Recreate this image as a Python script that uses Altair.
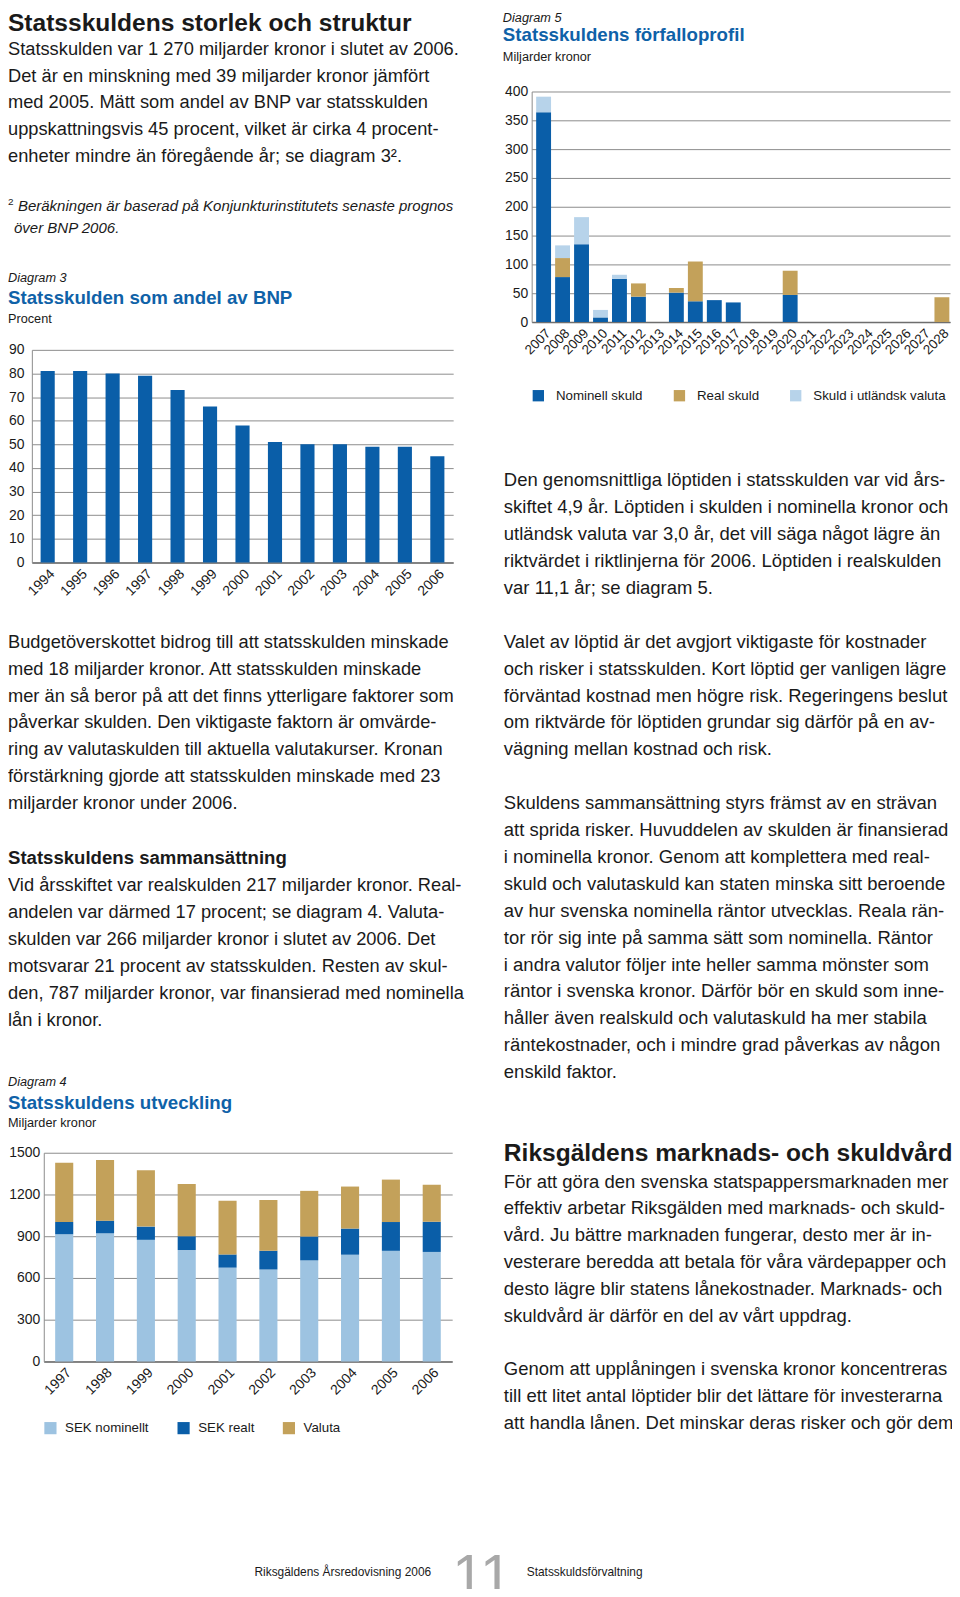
import altair as alt
import pandas as pd

# ---------------- data ----------------
years3 = ["1994", "1995", "1996", "1997", "1998", "1999", "2000", "2001", "2002", "2003", "2004", "2005", "2006"]
andel_bnp = [81, 81, 80, 79, 73, 66, 58, 51, 50, 50, 49, 49, 45]
ticks3 = [0, 10, 20, 30, 40, 50, 60, 70, 80, 90]

years4 = ["1997", "1998", "1999", "2000", "2001", "2002", "2003", "2004", "2005", "2006"]
sek_nominellt = [914, 921, 874, 800, 674, 660, 726, 767, 795, 787]
sek_realt = [88, 91, 95, 100, 95, 135, 172, 188, 207, 217]
valuta = [427, 436, 405, 376, 386, 365, 328, 302, 305, 266]
series4 = ["SEK nominellt", "SEK realt", "Valuta"]
ticks4 = [0, 300, 600, 900, 1200, 1500]

years5 = [str(y) for y in range(2007, 2029)]
nominell_skuld = [364, 78, 135, 8, 75, 44, 0, 51, 36, 38, 34, 0, 0, 47, 0, 0, 0, 0, 0, 0, 0, 0]
real_skuld = [0, 33, 0, 0, 0, 23, 0, 8, 69, 0, 0, 0, 0, 42, 0, 0, 0, 0, 0, 0, 0, 43]
utlandsk_skuld = [27, 22, 47, 13, 7, 0, 0, 0, 0, 0, 0, 0, 0, 0, 0, 0, 0, 0, 0, 0, 0, 0]
series5 = ["Nominell skuld", "Real skuld", "Skuld i utländsk valuta"]
ticks5 = [0, 50, 100, 150, 200, 250, 300, 350, 400]

heading1 = ["Statsskuldens storlek och struktur"]
para1 = [
    "Statsskulden var 1 270 miljarder kronor i slutet av 2006.",
    "Det är en minskning med 39 miljarder kronor jämfört",
    "med 2005. Mätt som andel av BNP var statsskulden",
    "uppskattningsvis 45 procent, vilket är cirka 4 procent-",
    "enheter mindre än föregående år; se diagram 3²."]
footnote_mark = ["2"]
footnote1 = ["Beräkningen är baserad på Konjunkturinstitutets senaste prognos"]
footnote2 = ["över BNP 2006."]
diag3_head = ["Diagram 3"]
diag3_title = ["Statsskulden som andel av BNP"]
diag3_unit = ["Procent"]
para2 = [
    "Budgetöverskottet bidrog till att statsskulden minskade",
    "med 18 miljarder kronor. Att statsskulden minskade",
    "mer än så beror på att det finns ytterligare faktorer som",
    "påverkar skulden. Den viktigaste faktorn är omvärde-",
    "ring av valutaskulden till aktuella valutakurser. Kronan",
    "förstärkning gjorde att statsskulden minskade med 23",
    "miljarder kronor under 2006."]
heading2 = ["Statsskuldens sammansättning"]
para3 = [
    "Vid årsskiftet var realskulden 217 miljarder kronor. Real-",
    "andelen var därmed 17 procent; se diagram 4. Valuta-",
    "skulden var 266 miljarder kronor i slutet av 2006. Det",
    "motsvarar 21 procent av statsskulden. Resten av skul-",
    "den, 787 miljarder kronor, var finansierad med nominella",
    "lån i kronor."]
diag4_head = ["Diagram 4"]
diag4_title = ["Statsskuldens utveckling"]
diag4_unit = ["Miljarder kronor"]
diag5_head = ["Diagram 5"]
diag5_title = ["Statsskuldens förfalloprofil"]
diag5_unit = ["Miljarder kronor"]
para4 = [
    "Den genomsnittliga löptiden i statsskulden var vid års-",
    "skiftet 4,9 år. Löptiden i skulden i nominella kronor och",
    "utländsk valuta var 3,0 år, det vill säga något lägre än",
    "riktvärdet i riktlinjerna för 2006. Löptiden i realskulden",
    "var 11,1 år; se diagram 5."]
para5 = [
    "Valet av löptid är det avgjort viktigaste för kostnader",
    "och risker i statsskulden. Kort löptid ger vanligen lägre",
    "förväntad kostnad men högre risk. Regeringens beslut",
    "om riktvärde för löptiden grundar sig därför på en av-",
    "vägning mellan kostnad och risk."]
para6 = [
    "Skuldens sammansättning styrs främst av en strävan",
    "att sprida risker. Huvuddelen av skulden är finansierad",
    "i nominella kronor. Genom att komplettera med real-",
    "skuld och valutaskuld kan staten minska sitt beroende",
    "av hur svenska nominella räntor utvecklas. Reala rän-",
    "tor rör sig inte på samma sätt som nominella. Räntor",
    "i andra valutor följer inte heller samma mönster som",
    "räntor i svenska kronor. Därför bör en skuld som inne-",
    "håller även realskuld och valutaskuld ha mer stabila",
    "räntekostnader, och i mindre grad påverkas av någon",
    "enskild faktor."]
heading3 = ["Riksgäldens marknads- och skuldvård"]
para7 = [
    "För att göra den svenska statspappersmarknaden mer",
    "effektiv arbetar Riksgälden med marknads- och skuld-",
    "vård. Ju bättre marknaden fungerar, desto mer är in-",
    "vesterare beredda att betala för våra värdepapper och",
    "desto lägre blir statens lånekostnader. Marknads- och",
    "skuldvård är därför en del av vårt uppdrag."]
para8 = [
    "Genom att upplåningen i svenska kronor koncentreras",
    "till ett litet antal löptider blir det lättare för investerarna",
    "att handla lånen. Det minskar deras risker och gör dem"]
footer_left = ["Riksgäldens Årsredovisning 2006"]
footer_page = ["11"]
footer_right = ["Statsskuldsförvaltning"]

# ---------------- style ----------------
FONT = "Liberation Sans"
TEXT = "#1a1a1a"
TITLE_BLUE = "#0f62a8"
BLUE = "#0a5ea8"
LIGHT4 = "#9dc3e1"
LIGHT5 = "#b7d3ea"
TAN = "#c3a15a"
GRID = "#8c8c8c"
AXIS = "#6e6e6e"
W, H = 950, 1581
OX, OY = 5, 5
TB = 2  # text baseline correction
BODY_L = 18.4
BODY_R = 18.6


def X(v):
    return v - OX


def Y(v):
    return v - OY


def text_block(lines, x, y0, lh, size, weight="normal", style="normal", color=TEXT):
    df = pd.DataFrame({"line": lines, "row": list(range(len(lines)))})
    y0 = y0 - TB
    return alt.Chart(df).mark_text(
        align="left", baseline="alphabetic", font=FONT, fontSize=size,
        fontWeight=weight, fontStyle=style, color=color
    ).encode(
        x=alt.value(X(x)),
        y=alt.Y("row:Q", scale=alt.Scale(domain=[0, 1], range=[Y(y0), Y(y0) + lh], nice=False, zero=False), axis=None),
        text="line:N",
    )


def y_axis(x_axis, ticks, pad):
    return alt.Axis(orient="left", offset=-X(x_axis), values=ticks, grid=True, gridColor=GRID, gridWidth=1,
                    domain=True, domainColor=GRID, domainWidth=1, ticks=False, labelPadding=pad, format="d",
                    labelFont=FONT, labelFontSize=14, labelColor=TEXT, title=None)


def x_axis(y_base, size=14):
    return alt.Axis(orient="bottom", offset=Y(y_base) - H, labelAngle=-45, grid=False, ticks=False,
                    domain=True, domainColor=AXIS, domainWidth=1.5, labelPadding=4,
                    labelFont=FONT, labelFontSize=size, labelColor=TEXT, title=None)


layers = []

# ---------------- left column text ----------------
layers.append(text_block(heading1, 5, 25, 27, 24.7, weight="bold"))
layers.append(text_block(para1, 5, 49, 27.0, BODY_L))
layers.append(text_block(footnote_mark, 5, 200, 22, 10))
layers.append(text_block(footnote1, 15, 206, 22, 15.1, style="italic"))
layers.append(text_block(footnote2, 11, 228, 22, 15.1, style="italic"))
layers.append(text_block(diag3_head, 5, 278, 20, 12.8, style="italic"))
layers.append(text_block(diag3_title, 5, 300, 20, 18.8, weight="bold", color=TITLE_BLUE))
layers.append(text_block(diag3_unit, 5, 319, 20, 12.8))

# ---------------- diagram 3 ----------------
d3 = pd.DataFrame({"year": years3, "value": andel_bnp})
layers.append(alt.Chart(d3).mark_bar(color=BLUE).encode(
    x=alt.X("year:N", sort=years3,
            scale=alt.Scale(domain=years3, range=[X(29), X(453)], paddingInner=0.565, paddingOuter=0.27),
            axis=x_axis(558)),
    y=alt.Y("value:Q", scale=alt.Scale(domain=[0, 90], range=[Y(558), Y(344)], nice=False),
            axis=y_axis(29, ticks3, 8)),
))

layers.append(text_block(para2, 5, 646, 27.0, BODY_L))
layers.append(text_block(heading2, 5, 863, 20, 18.7, weight="bold"))
layers.append(text_block(para3, 5, 891, 27.0, BODY_L))
layers.append(text_block(diag4_head, 5, 1087, 20, 12.8, style="italic"))
layers.append(text_block(diag4_title, 5, 1110, 20, 18.8, weight="bold", color=TITLE_BLUE))
layers.append(text_block(diag4_unit, 5, 1128, 20, 12.8))

# ---------------- diagram 4 ----------------
rows4 = []
for i, yr in enumerate(years4):
    for k, (name, vals) in enumerate(zip(series4, [sek_nominellt, sek_realt, valuta])):
        rows4.append({"year": yr, "typ": name, "ord": k, "value": vals[i]})
d4 = pd.DataFrame(rows4)
layers.append(alt.Chart(d4).mark_bar().encode(
    x=alt.X("year:N", sort=years4,
            scale=alt.Scale(domain=years4, range=[X(41), X(452)], paddingInner=0.557, paddingOuter=0.279),
            axis=x_axis(1362)),
    y=alt.Y("value:Q", stack="zero", scale=alt.Scale(domain=[0, 1500], range=[Y(1362), Y(1152)], nice=False),
            axis=y_axis(41, ticks4, 4)),
    color=alt.Color("typ:N", scale=alt.Scale(domain=series4, range=[LIGHT4, BLUE, TAN]),
                    legend=alt.Legend(orient="none", legendX=X(41), legendY=Y(1422), direction="horizontal",
                                      title=None, symbolType="square", symbolSize=150, symbolStrokeWidth=0,
                                      symbolOpacity=1, labelFont=FONT, labelFontSize=13.4, labelColor=TEXT,
                                      columnPadding=28, labelOffset=8)),
    order=alt.Order("ord:Q"),
))

# ---------------- right column ----------------
layers.append(text_block(diag5_head, 503, 16, 20, 12.8, style="italic"))
layers.append(text_block(diag5_title, 503, 35, 20, 18.8, weight="bold", color=TITLE_BLUE))
layers.append(text_block(diag5_unit, 503, 55, 20, 12.8))

rows5 = []
for i, yr in enumerate(years5):
    for k, (name, vals) in enumerate(zip(series5, [nominell_skuld, real_skuld, utlandsk_skuld])):
        if vals[i] > 0:
            rows5.append({"year": yr, "typ": name, "ord": k, "value": vals[i]})
d5 = pd.DataFrame(rows5)
layers.append(alt.Chart(d5).mark_bar().encode(
    x=alt.X("year:N", sort=years5,
            scale=alt.Scale(domain=years5, range=[X(532), X(953)], paddingInner=0.215, paddingOuter=0.136,
                            align=0.87),
            axis=x_axis(316, 13.5)),
    y=alt.Y("value:Q", stack="zero", scale=alt.Scale(domain=[0, 400], range=[Y(316), Y(84)], nice=False),
            axis=y_axis(532, ticks5, 4)),
    color=alt.Color("typ:N", scale=alt.Scale(domain=series5, range=[BLUE, TAN, LIGHT5]),
                    legend=alt.Legend(orient="none", legendX=X(532), legendY=Y(383), direction="horizontal",
                                      title=None, symbolType="square", symbolSize=130, symbolStrokeWidth=0,
                                      symbolOpacity=1, labelFont=FONT, labelFontSize=13.4, labelColor=TEXT,
                                      columnPadding=30, labelOffset=11)),
    order=alt.Order("ord:Q"),
))

layers.append(text_block(para4, 504, 483, 27.2, BODY_R))
layers.append(text_block(para5, 504, 646, 27.0, BODY_R))
layers.append(text_block(para6, 504, 808, 27.1, BODY_R))
layers.append(text_block(heading3, 504, 1162, 20, 24.7, weight="bold"))
layers.append(text_block(para7, 504, 1189, 27.0, BODY_R))
layers.append(text_block(para8, 504, 1378, 27.0, BODY_R))

# ---------------- footer ----------------
layers.append(text_block(footer_left, 253, 1580, 20, 12))
layers.append(text_block(footer_page, 452, 1599, 20, 58, color="#a8a8a8"))
layers.append(text_block(footer_right, 527, 1580, 20, 12))

chart = alt.layer(*layers).resolve_scale(
    x="independent", y="independent", color="independent"
).resolve_axis(x="independent", y="independent").resolve_legend(color="independent").properties(
    width=W, height=H, padding=0, autosize=alt.AutoSizeParams(type="none")
).configure_view(stroke=None)

chart.save("out.html", embed_options={"renderer": "svg", "actions": False})
